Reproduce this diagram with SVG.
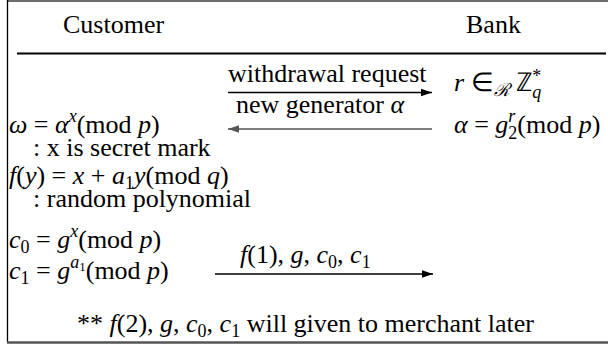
<svg xmlns="http://www.w3.org/2000/svg" width="608" height="345" viewBox="0 0 608 345">
  <style>
    text { font-family: "Liberation Serif", "Times New Roman", serif; font-size: 26px; fill: #000; }
    .i { font-style: italic; }
    .s { font-size: 18px; }
    .ss { font-size: 13px; }
    .arrow { stroke: #000; stroke-width: 1.4; fill: none; }
    .gray { stroke: #555; }
  </style>
  <defs>
    <marker id="ah" markerUnits="userSpaceOnUse" markerWidth="12" markerHeight="10" refX="11" refY="5" orient="auto">
      <path d="M0,1.2 L11,5 L0,8.8 Z" fill="#000"/>
    </marker>
    <marker id="ahg" markerUnits="userSpaceOnUse" markerWidth="12" markerHeight="10" refX="11" refY="5" orient="auto">
      <path d="M0,1.2 L11,5 L0,8.8 Z" fill="#555"/>
    </marker>
  </defs>

  <g id="frame">
    <line x1="7" y1="1" x2="608" y2="1" stroke="#6d6d6d" stroke-width="2"/>
    <line x1="7.5" y1="0" x2="7.5" y2="343" stroke="#000" stroke-width="1.3"/>
    <line x1="7" y1="342.5" x2="608" y2="342.5" stroke="#555" stroke-width="2.5"/>
    <line x1="17" y1="53.5" x2="606" y2="53.5" stroke="#000" stroke-width="1.8"/>
  </g>

  <g id="customer">
    <text x="63" y="33">Customer</text>
  </g>
  <g id="bank">
    <text x="466" y="33">Bank</text>
  </g>

  <g id="bank-steps">
    <text x="454" y="91"><tspan class="i">r</tspan> ∈<tspan class="s i" dy="5">ℛ</tspan><tspan dy="-5"> ℤ</tspan><tspan class="s" dy="-9">*</tspan><tspan class="s i" dx="-9" dy="16">q</tspan></text>
    <text x="454" y="133"><tspan class="i">α</tspan> = <tspan class="i">g</tspan><tspan class="s i" dy="-11">r</tspan><tspan class="s" dx="-7" dy="17">2</tspan><tspan dy="-6">(mod </tspan><tspan class="i">p</tspan>)</text>
  </g>

  <g id="customer-steps">
    <text x="9" y="133"><tspan class="i">ω</tspan> = <tspan class="i">α</tspan><tspan class="s i" dy="-11">x</tspan><tspan dy="11">(mod </tspan><tspan class="i">p</tspan>)</text>
    <text x="33" y="156">: x is secret mark</text>
    <text x="9" y="184"><tspan class="i">f</tspan>(<tspan class="i">y</tspan>) = <tspan class="i">x</tspan> + <tspan class="i">a</tspan><tspan class="s" dy="5">1</tspan><tspan class="i" dy="-5">y</tspan>(mod <tspan class="i">q</tspan>)</text>
    <text x="33" y="207">: random polynomial</text>
    <text x="9" y="248"><tspan class="i">c</tspan><tspan class="s" dy="5">0</tspan><tspan dy="-5"> = </tspan><tspan class="i">g</tspan><tspan class="s i" dy="-11">x</tspan><tspan dy="11">(mod </tspan><tspan class="i">p</tspan>)</text>
    <text x="9" y="279"><tspan class="i">c</tspan><tspan class="s" dy="5">1</tspan><tspan dy="-5"> = </tspan><tspan class="i">g</tspan><tspan class="s i" dy="-11">a</tspan><tspan class="ss" dy="3">1</tspan><tspan dy="8">(mod </tspan><tspan class="i">p</tspan>)</text>
  </g>

  <g id="connectors">
    <line class="arrow" x1="228" y1="92.5" x2="432" y2="92.5" marker-end="url(#ah)"/>
    <text x="228" y="82">withdrawal request</text>
    <line class="arrow gray" x1="432" y1="129" x2="228" y2="129" marker-end="url(#ahg)"/>
    <text x="236" y="113">new generator <tspan class="i">α</tspan></text>
    <line class="arrow" x1="215" y1="274" x2="433" y2="274" marker-end="url(#ah)"/>
    <text x="240" y="263"><tspan class="i">f</tspan>(1), <tspan class="i">g</tspan>, <tspan class="i">c</tspan><tspan class="s" dy="5">0</tspan><tspan dy="-5">, </tspan><tspan class="i">c</tspan><tspan class="s" dy="5">1</tspan></text>
  </g>

  <g id="note">
    <text x="77" y="332">** <tspan class="i">f</tspan>(2), <tspan class="i">g</tspan>, <tspan class="i">c</tspan><tspan class="s" dy="5">0</tspan><tspan dy="-5">, </tspan><tspan class="i">c</tspan><tspan class="s" dy="5">1</tspan><tspan dy="-5"> will given to merchant later</tspan></text>
  </g>
</svg>
